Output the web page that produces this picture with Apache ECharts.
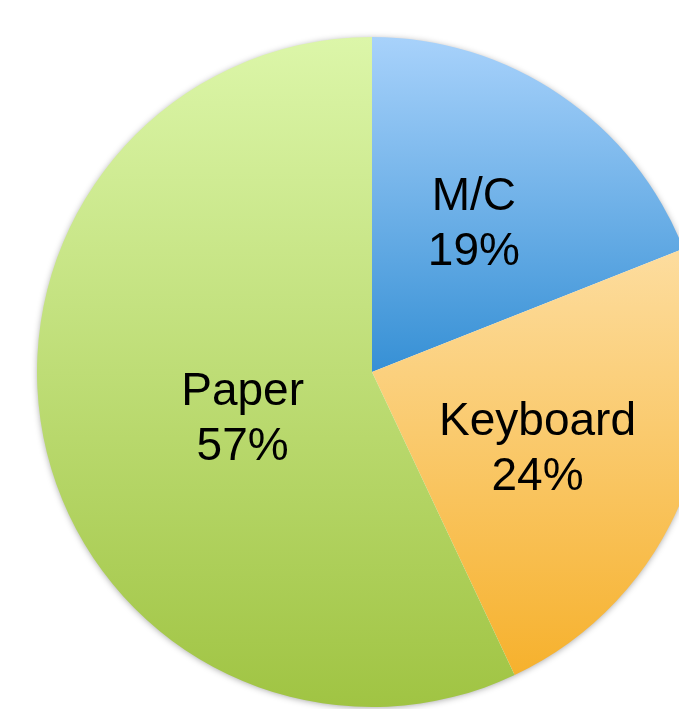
<!DOCTYPE html>
<html>
<head>
<meta charset="utf-8">
<script src="https://cdn.jsdelivr.net/npm/echarts@6/dist/echarts.min.js"></script>
<style>html,body{margin:0;padding:0;background:#fff}#c{width:679px;height:709px}</style>
</head>
<body>
<div id="c"></div>
<script>
const categories = ['M/C', 'Keyboard', 'Paper'];
const values = [19, 24, 57];

const gradients = [
  ['#a8d2fb', '#3690d5'],
  ['#fddd9f', '#f6b12d'],
  ['#dcf6a9', '#a0c443']
];
const labelShift = [[6, -6], [7, 15], [37, 11]];

const chart = echarts.init(document.getElementById('c'), null, {renderer: 'canvas'});
chart.setOption({
  backgroundColor: '#ffffff',
  animation: false,
  series: [{
    type: 'pie',
    z: 1,
    silent: true,
    center: [372, 372],
    radius: [0, 334],
    label: {show: false},
    labelLine: {show: false},
    data: [{value: 1, itemStyle: {
      color: '#ffffff',
      shadowBlur: 7,
      shadowColor: 'rgba(0,0,0,0.4)',
      shadowOffsetX: 0,
      shadowOffsetY: 1
    }}],
    emphasis: {disabled: true}
  }, {
    type: 'pie',
    z: 2,
    center: [372, 372],
    radius: [0, 335],
    startAngle: 90,
    clockwise: true,
    percentPrecision: 0,
    data: categories.map((name, i) => ({
      name: name,
      value: values[i],
      itemStyle: {
        color: new echarts.graphic.LinearGradient(0, 0, 0, 1, [
          {offset: 0, color: gradients[i][0]},
          {offset: 1, color: gradients[i][1]}
        ])
      }
    })),
    itemStyle: {borderWidth: 0},
    label: {
      show: true,
      position: 'inside',
      formatter: '{b}\n{d}%',
      color: '#000',
      fontFamily: 'Liberation Sans, Arial, sans-serif',
      fontSize: 46,
      lineHeight: 55,
      align: 'center'
    },
    labelLine: {show: false},
    labelLayout: function (p) {
      const s = labelShift[p.dataIndex];
      return {dx: s[0], dy: s[1]};
    },
    emphasis: {disabled: true}
  }]
});
</script>
</body>
</html>
